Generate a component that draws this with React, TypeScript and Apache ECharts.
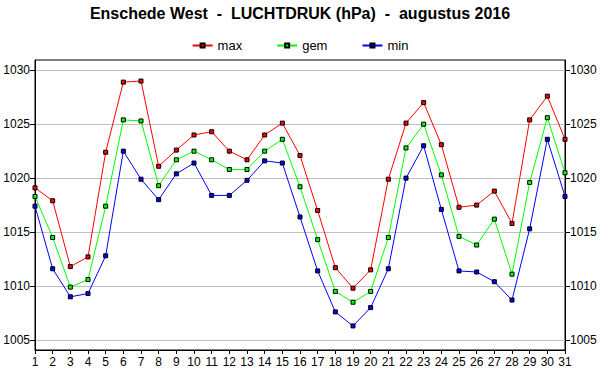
import React, { useEffect, useRef } from "react";
import * as echarts from "echarts";

const days = Array.from({ length: 31 }, (_, i) => String(i + 1));
const maxValues = [1019.1, 1017.9, 1011.8, 1012.7, 1022.4, 1028.9, 1029.0, 1021.1, 1022.6, 1024.0, 1024.3, 1022.5, 1021.7, 1024.0, 1025.1, 1022.1, 1017.0, 1011.7, 1009.8, 1011.5, 1019.9, 1025.1, 1027.0, 1023.1, 1017.3, 1017.5, 1018.8, 1015.8, 1025.4, 1027.6, 1023.6];
const gemValues = [1018.3, 1014.5, 1009.9, 1010.6, 1017.4, 1025.4, 1025.3, 1019.3, 1021.7, 1022.5, 1021.7, 1020.8, 1020.8, 1022.5, 1023.6, 1019.2, 1014.3, 1009.5, 1008.5, 1009.5, 1014.5, 1022.8, 1025.0, 1020.3, 1014.6, 1013.8, 1016.2, 1011.1, 1019.6, 1025.6, 1020.5];
const minValues = [1017.4, 1011.6, 1009.0, 1009.3, 1012.8, 1022.5, 1019.9, 1018.0, 1020.4, 1021.4, 1018.4, 1018.4, 1019.8, 1021.6, 1021.4, 1016.4, 1011.4, 1007.6, 1006.3, 1008.0, 1011.6, 1020.0, 1023.0, 1017.1, 1011.4, 1011.3, 1010.4, 1008.7, 1015.3, 1023.6, 1018.3];
const yTicks = [1005, 1010, 1015, 1020, 1025, 1030];
const yMin = 1004.07;
const yMax = 1030.95;

const FONT = "Liberation Sans";

function yAxisDef(position: "left" | "right") {
  return {
    type: "value",
    position,
    min: yMin,
    max: yMax,
    axisLine: { show: true, lineStyle: { color: "#000", width: 1 } },
    axisTick: { show: true, length: 5, customValues: yTicks, lineStyle: { color: "#000" } },
    axisLabel: {
      customValues: yTicks,
      formatter: (v: number) => String(v),
      color: "#000",
      fontFamily: FONT,
      fontSize: 12,
      margin: 5,
    },
    splitLine: { show: position === "left", lineStyle: { color: "#c0c0c0", width: 1 } },
  };
}

function lineSeries(name: string, data: number[], color: string) {
  return {
    name,
    type: "line",
    data,
    yAxisIndex: 0,
    symbol: "rect",
    symbolSize: 4,
    showAllSymbol: true,
    lineStyle: { color, width: 1 },
    itemStyle: { color, borderColor: "#000", borderWidth: 1 },
    emphasis: { disabled: true },
  };
}

export default function App() {
  const ref = useRef<HTMLDivElement>(null);
  useEffect(() => {
    if (!ref.current) return;
    const chart = echarts.init(ref.current, undefined, { renderer: "svg" });
    chart.setOption({
      animation: false,
      backgroundColor: "#fff",
      title: {
        text: "Enschede West  -  LUCHTDRUK (hPa)  -  augustus 2016",
        left: "center",
        top: 0,
        textStyle: { fontFamily: FONT, fontSize: 16, fontWeight: "bold", color: "#000" },
      },
      legend: {
        top: 34,
        left: "center",
        itemWidth: 20,
        itemHeight: 5,
        itemGap: 34,
        textStyle: { fontFamily: FONT, fontSize: 13, color: "#000" },
        data: ["max", "gem", "min"],
      },
      grid: {
        left: 35,
        right: 35,
        top: 60,
        bottom: 40,
        show: true,
        borderColor: "#000",
        borderWidth: 1,
      },
      xAxis: {
        type: "category",
        data: days,
        boundaryGap: false,
        axisLine: { lineStyle: { color: "#000" } },
        axisTick: { show: true, length: 4, alignWithLabel: true, lineStyle: { color: "#000" } },
        axisLabel: { color: "#000", fontFamily: FONT, fontSize: 12, interval: 0, margin: 6 },
        splitLine: { show: false },
      },
      yAxis: [yAxisDef("left"), yAxisDef("right")],
      series: [
        lineSeries("max", maxValues, "#ff0000"),
        lineSeries("gem", gemValues, "#00ff00"),
        lineSeries("min", minValues, "#0000ff"),
      ],
    });
    return () => chart.dispose();
  }, []);
  return <div ref={ref} style={{ width: 600, height: 390, position: "absolute", left: 0, top: 0 }} />;
}
